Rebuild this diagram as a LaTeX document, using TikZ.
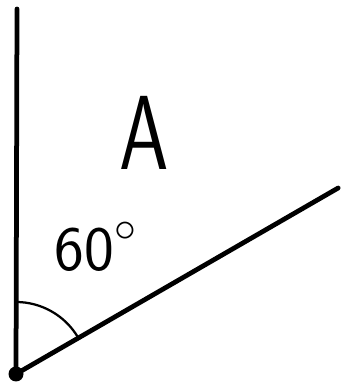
\documentclass[tikz,border=0pt]{standalone}
\usepackage{tikz}
\usetikzlibrary{calc}
\tikzset{
  ray/.style={line width=0.95mm, black, line cap=round},
  anglemark/.style={line width=0.45mm, black},
  lbl/.style={inner sep=0pt, font=\sffamily}
}
\begin{document}
\begin{tikzpicture}[x=0.2mm, y=0.2mm]
\useasboundingbox (0,0) rectangle (343,389);

% Vertex and the two rays
\coordinate (O) at (16,15);
\coordinate (top) at (17,380);
\coordinate (end) at ($(O)+(30:372)$);
\draw[ray] (O) -- (top);
\draw[ray] (O) -- (end);
\fill (O) circle (1.5mm);

% Angle arc
\draw[anglemark] ($(O)+(90:72)$) arc (90:30:72);

% Labels
\node[lbl, font=\sffamily\fontsize{60}{66}\selectfont, xscale=0.75] (nameA) at (144,256) {A};
\node[lbl, font=\sffamily\fontsize{36}{40}\selectfont] (angle) at (96,142) {60\raisebox{0.5ex}{$^\circ$}};
\end{tikzpicture}
\end{document}
